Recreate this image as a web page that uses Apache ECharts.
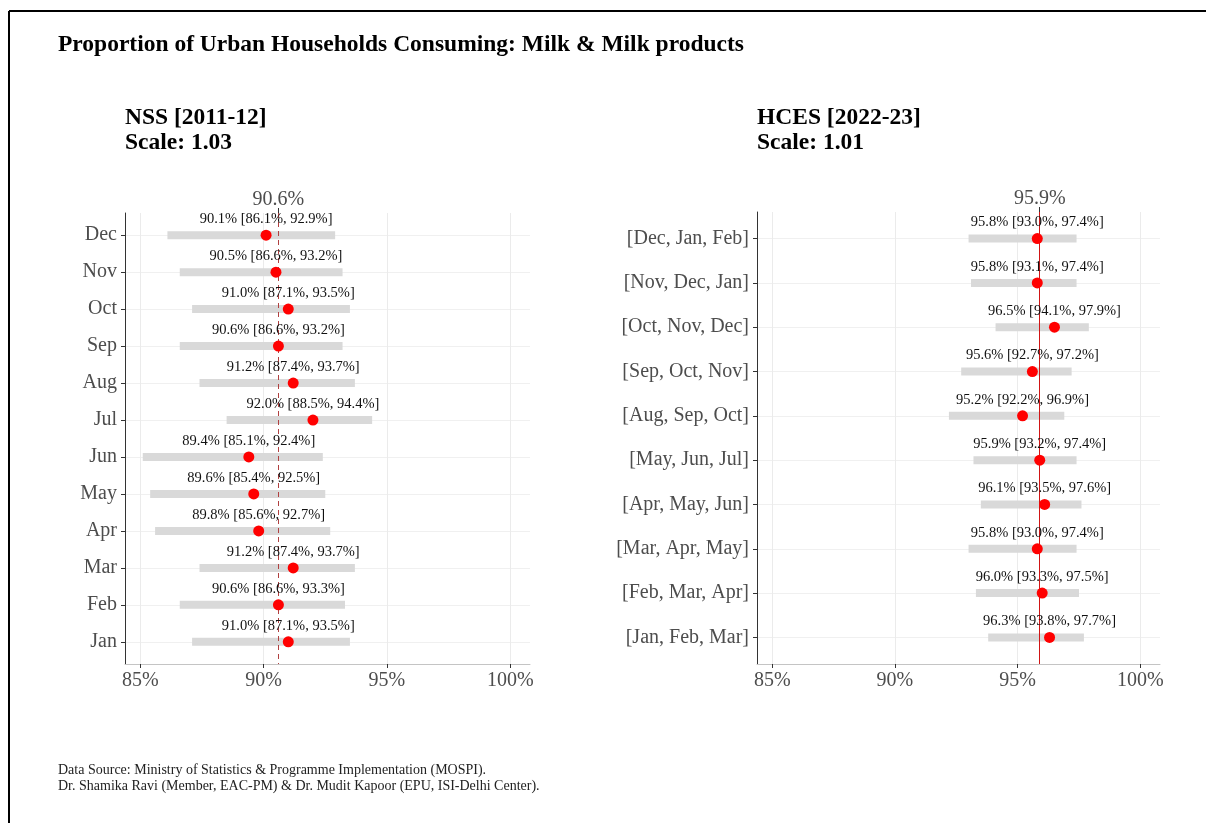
<!DOCTYPE html>
<html>
<head>
<meta charset="utf-8">
<script src="https://cdn.jsdelivr.net/npm/echarts@6/dist/echarts.min.js"></script>
<style>
  html, body { margin: 0; padding: 0; background: #fff; }
  #chart { width: 1206px; height: 823px; }
</style>
</head>
<body>
<div id="chart"></div>
<script>
// NSS 2011-12: monthly estimates (top to bottom), with interval bounds
const nssMonths = ['Dec', 'Nov', 'Oct', 'Sep', 'Aug', 'Jul', 'Jun', 'May', 'Apr', 'Mar', 'Feb', 'Jan'];
const nssValue  = [90.1, 90.5, 91.0, 90.6, 91.2, 92.0, 89.4, 89.6, 89.8, 91.2, 90.6, 91.0];
const nssLow    = [86.1, 86.6, 87.1, 86.6, 87.4, 88.5, 85.1, 85.4, 85.6, 87.4, 86.6, 87.1];
const nssHigh   = [92.9, 93.2, 93.5, 93.2, 93.7, 94.4, 92.4, 92.5, 92.7, 93.7, 93.3, 93.5];
const nssMean   = 90.6;

// HCES 2022-23: three-month windows (top to bottom)
const hcesWindows = ['[Dec, Jan, Feb]', '[Nov, Dec, Jan]', '[Oct, Nov, Dec]', '[Sep, Oct, Nov]',
  '[Aug, Sep, Oct]', '[May, Jun, Jul]', '[Apr, May, Jun]', '[Mar, Apr, May]', '[Feb, Mar, Apr]', '[Jan, Feb, Mar]'];
const hcesValue = [95.8, 95.8, 96.5, 95.6, 95.2, 95.9, 96.1, 95.8, 96.0, 96.3];
const hcesLow   = [93.0, 93.1, 94.1, 92.7, 92.2, 93.2, 93.5, 93.0, 93.3, 93.8];
const hcesHigh  = [97.4, 97.4, 97.9, 97.2, 96.9, 97.4, 97.6, 97.4, 97.5, 97.7];
const hcesMean  = 95.9;

const xTicks = [85, 90, 95, 100];

const SERIF = '"Liberation Serif", "DejaVu Serif", serif';
const AXIS_GREY = '#4d4d4d';
const X_MIN = 84.38, X_MAX = 100.8;

const chart = echarts.init(document.getElementById('chart'), null, { renderer: 'canvas' });

function fmt(v) { return v.toFixed(1) + '%'; }

function bottomAxis(grid) {
  return {
    type: 'value', gridIndex: grid, position: 'bottom', min: X_MIN, max: X_MAX,
    axisLine: { show: true, onZero: false, lineStyle: { color: '#c4c4c4', width: 1 } },
    axisTick: { show: true, length: 4, lineStyle: { color: '#333' }, customValues: xTicks },
    axisLabel: { customValues: xTicks, formatter: v => v + '%', color: AXIS_GREY,
      fontFamily: SERIF, fontSize: 20, margin: 7 },
    splitLine: { show: true, lineStyle: { color: '#ebebeb', width: 1 } }
  };
}

function topAxis(grid, mean) {
  return {
    type: 'value', gridIndex: grid, position: 'top', min: X_MIN, max: X_MAX,
    axisLine: { show: false, onZero: false },
    axisTick: { show: true, length: 5, lineStyle: { color: '#333' }, customValues: [mean] },
    axisLabel: { customValues: [mean], formatter: v => fmt(v), color: AXIS_GREY,
      fontFamily: SERIF, fontSize: 20, margin: 3 },
    splitLine: { show: false }
  };
}

function catAxis(grid, cats) {
  const idx = cats.map((_, i) => i);
  return {
    type: 'value', gridIndex: grid, inverse: true, min: -0.6, max: cats.length - 0.4,
    axisLine: { show: true, onZero: false, lineStyle: { color: '#333', width: 1 } },
    axisTick: { show: true, length: 4, lineStyle: { color: '#333' }, customValues: idx },
    axisLabel: { customValues: idx, formatter: v => cats[Math.round(v)], color: AXIS_GREY,
      fontFamily: SERIF, fontSize: 20, margin: 8 },
    splitLine: { show: true, lineStyle: { color: '#f0f0f0', width: 1 } }
  };
}

function intervalSeries(axisIdx, low, high) {
  return {
    type: 'custom', xAxisIndex: axisIdx, yAxisIndex: axisIdx, silent: true, z: 2,
    encode: { x: [1, 2], y: 0 },
    data: low.map((lo, i) => [i, lo, high[i]]),
    renderItem: (params, api) => {
      const a = api.coord([api.value(1), api.value(0)]);
      const b = api.coord([api.value(2), api.value(0)]);
      return { type: 'rect', shape: { x: a[0], y: a[1] - 4, width: b[0] - a[0], height: 8 },
        style: { fill: '#d9d9d9' } };
    }
  };
}

function pointSeries(axisIdx, values, low, high, mean, meanStyle) {
  return {
    type: 'scatter', xAxisIndex: axisIdx, yAxisIndex: axisIdx, z: 4,
    symbol: 'circle', symbolSize: 11,
    itemStyle: { color: '#ff0000', opacity: 1 },
    data: values.map((v, i) => ({ value: [v, i], lo: low[i], hi: high[i] })),
    label: {
      show: true, position: 'top', distance: 3, color: '#111',
      fontFamily: SERIF, fontSize: 14.5,
      formatter: p => fmt(p.data.value[0]) + ' [' + fmt(p.data.lo) + ', ' + fmt(p.data.hi) + ']'
    },
    markLine: {
      silent: true, symbol: 'none', z: 3,
      label: { show: false },
      lineStyle: meanStyle,
      data: [{ xAxis: mean }]
    }
  };
}

const option = {
  backgroundColor: '#ffffff',
  animation: false,
  grid: [
    { left: 125, right: 676, top: 213, bottom: 159 },
    { left: 757, right: 46, top: 212, bottom: 159 }
  ],
  xAxis: [bottomAxis(0), bottomAxis(1), topAxis(0, nssMean), topAxis(1, hcesMean)],
  yAxis: [catAxis(0, nssMonths), catAxis(1, hcesWindows)],
  series: [
    intervalSeries(0, nssLow, nssHigh),
    intervalSeries(1, hcesLow, hcesHigh),
    pointSeries(0, nssValue, nssLow, nssHigh, nssMean, { color: '#b04040', width: 1, type: [5, 4] }),
    pointSeries(1, hcesValue, hcesLow, hcesHigh, hcesMean, { color: '#d01515', width: 1, type: 'solid' })
  ],
  graphic: [
    { type: 'line', silent: true, shape: { x1: 9, y1: 11, x2: 1206, y2: 11 }, style: { stroke: '#000', lineWidth: 2 } },
    { type: 'line', silent: true, shape: { x1: 9, y1: 11, x2: 9, y2: 823 }, style: { stroke: '#000', lineWidth: 2 } },
    { type: 'text', x: 58, y: 45, style: { text: 'Proportion of Urban Households Consuming: Milk & Milk products',
        font: 'bold 23.5px ' + SERIF, fill: '#000', textVerticalAlign: 'middle' } },
    { type: 'text', x: 125, y: 118, style: { text: 'NSS [2011-12]', font: 'bold 23.5px ' + SERIF, fill: '#000', textVerticalAlign: 'middle' } },
    { type: 'text', x: 125, y: 143, style: { text: 'Scale: 1.03', font: 'bold 23.5px ' + SERIF, fill: '#000', textVerticalAlign: 'middle' } },
    { type: 'text', x: 757, y: 118, style: { text: 'HCES [2022-23]', font: 'bold 23.5px ' + SERIF, fill: '#000', textVerticalAlign: 'middle' } },
    { type: 'text', x: 757, y: 143, style: { text: 'Scale: 1.01', font: 'bold 23.5px ' + SERIF, fill: '#000', textVerticalAlign: 'middle' } },
    { type: 'text', x: 58, y: 770, style: { text: 'Data Source: Ministry of Statistics & Programme Implementation (MOSPI).',
        font: '14px ' + SERIF, fill: '#222', textVerticalAlign: 'middle' } },
    { type: 'text', x: 58, y: 786, style: { text: 'Dr. Shamika Ravi (Member, EAC-PM) & Dr. Mudit Kapoor (EPU, ISI-Delhi Center).',
        font: '14px ' + SERIF, fill: '#222', textVerticalAlign: 'middle' } }
  ]
};

chart.setOption(option);
</script>
</body>
</html>
